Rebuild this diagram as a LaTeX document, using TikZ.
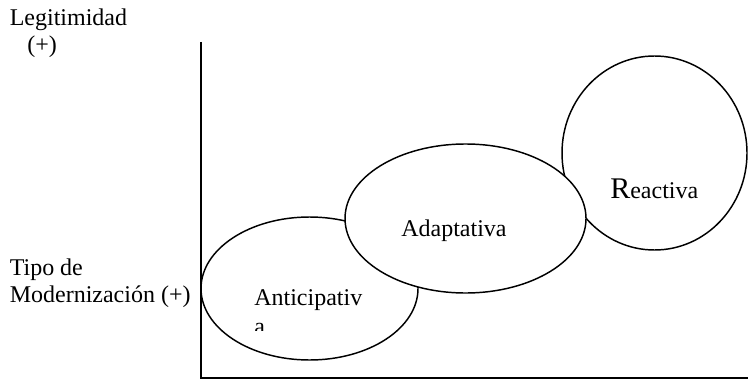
\documentclass[tikz,border=0pt]{standalone}
\usepackage{fontspec}
\setmainfont{Liberation Serif}
\usetikzlibrary{shapes.geometric}
\begin{document}
\begin{tikzpicture}[x=0.75pt,y=-0.75pt,
  bubble/.style={draw=black,line width=1.1pt,fill=white,ellipse,inner sep=0pt},
  lbl/.style={inner sep=0pt,anchor=base west,font=\fontsize{18}{20.25}\selectfont},
  axis/.style={draw=black,line width=1.5pt}]
\useasboundingbox (0,0) rectangle (748,381);
% ellipses
\node[bubble,minimum width=162.75pt,minimum height=107.25pt] (anti) at (309.5,288.5) {};
\node[bubble,minimum width=138.75pt,minimum height=145.5pt] (reac) at (654.5,153) {};
\node[bubble,minimum width=180.75pt,minimum height=111.75pt] (adap) at (465.5,218.5) {};
% axes
\coordinate (ytop) at (201,42);
\coordinate (orig) at (201,378);
\coordinate (xend) at (748,378);
\draw[axis] (ytop) -- (orig) -- (xend);
% labels
\node[lbl] (legit) at (9.5,26) {Legitimidad};
\node[lbl] (plus) at (27,53) {(+)};
\node[lbl] (tipo) at (9.5,275) {Tipo de};
\node[lbl] (mod) at (9.5,302) {Modernización (+)};
\node[lbl] (tanti) at (254,305.5) {Anticipativ};
\begin{scope}
\clip (240,315) rectangle (280,330);
\node[lbl] (tantia) at (254,334) {a};
\end{scope}
\node[lbl] (tadap) at (401,236) {Adaptativa};
\node[lbl] (treac) at (610,198) {{\fontsize{22.5}{24}\selectfont R}eactiva};
\end{tikzpicture}
\end{document}
